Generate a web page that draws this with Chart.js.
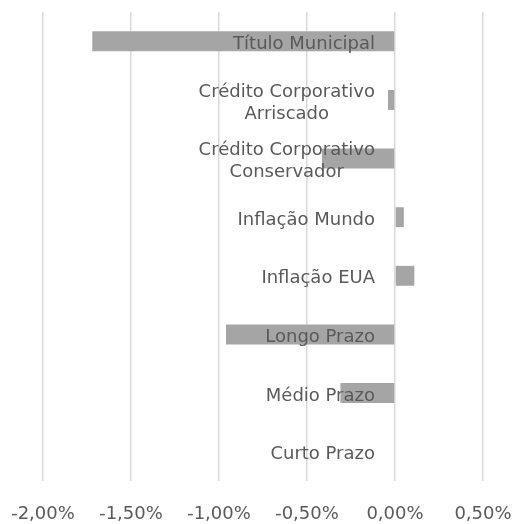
<!DOCTYPE html>
<html>
<head>
<meta charset="utf-8">
<script src="https://cdn.jsdelivr.net/npm/chart.js@4/dist/chart.umd.min.js"></script>
<style>
  html, body { margin: 0; padding: 0; background: #ffffff; }
  #wrap { width: 517px; height: 524px; }
</style>
</head>
<body>
<div id="wrap"><canvas id="c" width="517" height="524"></canvas></div>
<script>
const categories = [
  ["Título Municipal"],
  ["Crédito Corporativo", "Arriscado"],
  ["Crédito Corporativo", "Conservador"],
  ["Inflação Mundo"],
  ["Inflação EUA"],
  ["Longo Prazo"],
  ["Médio Prazo"],
  ["Curto Prazo"]
];
const values = [-1.72, -0.04, -0.415, 0.05, 0.11, -0.96, -0.31, 0.0];
const xTicks = [-2, -1.5, -1, -0.5, 0, 0.5];

const FONT = "'DejaVu Sans', sans-serif";
const TEXT = "#595959";

const innerLabels = {
  id: 'innerLabels',
  afterDatasetsDraw(chart) {
    const ctx = chart.ctx;
    const xs = chart.scales.x, ys = chart.scales.y;
    const xr = xs.getPixelForValue(0) - 20;
    ctx.save();
    ctx.font = "18px " + FONT;
    ctx.fillStyle = TEXT;
    ctx.textBaseline = 'middle';
    const lh = 22;
    categories.forEach((lines, i) => {
      const yc = ys.getPixelForValue(i);
      const widths = lines.map(l => ctx.measureText(l).width);
      const maxW = Math.max(...widths);
      const y0 = yc - (lines.length - 1) * lh / 2 + 3;
      lines.forEach((l, j) => {
        ctx.textAlign = 'center';
        ctx.fillText(l, xr - maxW / 2, y0 + j * lh);
      });
    });
    ctx.restore();
  }
};

new Chart(document.getElementById('c'), {
  type: 'bar',
  data: {
    labels: categories.map(c => c.join(' ')),
    datasets: [{
      data: values,
      backgroundColor: '#A5A5A5',
      borderWidth: 0,
      barPercentage: 0.34,
      categoryPercentage: 1.0
    }]
  },
  options: {
    indexAxis: 'y',
    responsive: false,
    animation: false,
    devicePixelRatio: 1,
    layout: { padding: { left: 43, right: 34, top: 12, bottom: 0 } },
    plugins: { legend: { display: false }, tooltip: { enabled: false } },
    scales: {
      x: {
        min: xTicks[0],
        max: xTicks[xTicks.length - 1],
        afterBuildTicks(scale) { scale.ticks = xTicks.map(v => ({ value: v })); },
        afterFit(scale) {
          scale.paddingLeft = 0; scale.paddingRight = 0;
          scale.paddingTop = 0; scale.paddingBottom = 0;
          scale.height = 43;
        },
        grid: { color: '#D9D9D9', lineWidth: 1.5, drawTicks: false },
        border: { display: false },
        ticks: {
          color: TEXT,
          font: { family: FONT, size: 18 },
          padding: 23,
          maxRotation: 0,
          callback: v => v.toFixed(2).replace('.', ',') + '%'
        }
      },
      y: {
        display: false
      }
    }
  },
  plugins: [innerLabels]
});
</script>
</body>
</html>
